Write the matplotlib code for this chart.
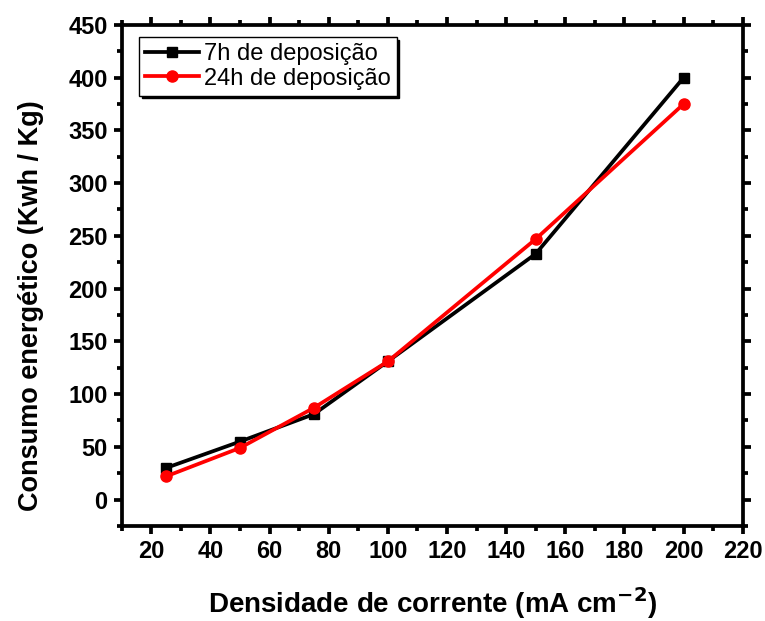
import matplotlib
matplotlib.use('Agg')
import matplotlib.pyplot as plt
from matplotlib.ticker import MultipleLocator

plt.rcParams['font.family'] = ['Liberation Sans', 'DejaVu Sans']

# data
densidade = [25, 50, 75, 100, 150, 200]
consumo_7h = [30, 55, 81, 131, 233, 400]
consumo_24h = [22, 49, 87, 131, 247, 375]
labels = ['7h de deposição', '24h de deposição']

fig = plt.figure(figsize=(7.65, 6.21), dpi=100)
ax = fig.add_axes([0.159, 0.153, 0.812, 0.807])

ax.plot(densidade, consumo_7h, color='black', lw=2.7, marker='s', ms=7,
        label=labels[0])
ax.plot(densidade, consumo_24h, color='red', lw=2.7, marker='o', ms=8,
        label=labels[1])

ax.set_xlim(10, 220)
ax.set_ylim(-25, 450)
ax.xaxis.set_major_locator(MultipleLocator(20))
ax.xaxis.set_minor_locator(MultipleLocator(10))
ax.yaxis.set_major_locator(MultipleLocator(50))
ax.yaxis.set_minor_locator(MultipleLocator(25))

for s in ax.spines.values():
    s.set_linewidth(2.7)
ax.tick_params(which='major', direction='out', length=6, width=2.7,
               top=True, right=True, labelsize=17, pad=4)
ax.tick_params(which='minor', direction='out', length=3.5, width=2.7,
               top=True, right=True)
for t in ax.get_xticklabels() + ax.get_yticklabels():
    t.set_fontweight('bold')

ax.set_xlabel('Densidade de corrente (mA cm$^{\\mathbf{-2}}$)', fontsize=20,
              fontweight='bold', labelpad=16)
ax.set_ylabel('Consumo energético (Kwh / Kg)', fontsize=19.5,
              fontweight='bold')
ax.yaxis.set_label_coords(-0.125, 0.44)

leg = ax.legend(loc='upper left', bbox_to_anchor=(0.028, 0.975), fontsize=17,
                frameon=True, fancybox=False, shadow={'color': 'black', 'alpha': 1},
                borderpad=0.25, handlelength=2.3, handletextpad=0.2,
                labelspacing=0.1, borderaxespad=0)
leg.get_frame().set_edgecolor('black')
leg.get_frame().set_linewidth(1)

fig.savefig('out.png', dpi=100)
